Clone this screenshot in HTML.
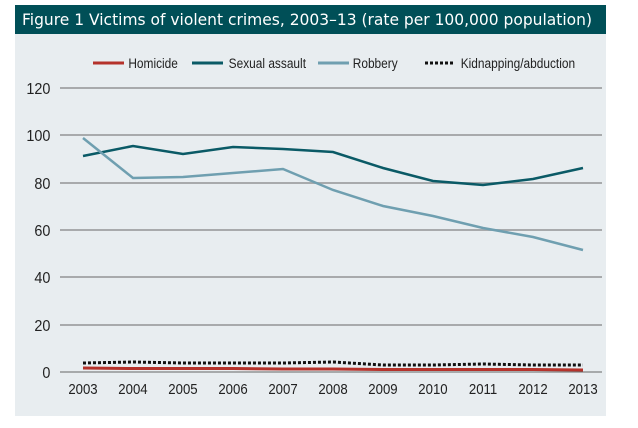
<!DOCTYPE html><html><head><style>body{margin:0;background:#fff}</style></head><body>
<svg width="638" height="423" xmlns="http://www.w3.org/2000/svg" font-family="Liberation Sans, sans-serif">
<rect x="15" y="5" width="591" height="411" fill="#e8edf0"/>
<rect x="15" y="5" width="591" height="29" fill="#004f57"/>
<text x="22" y="25" fill="#fff" font-size="16" font-family="DejaVu Sans, sans-serif" textLength="570" lengthAdjust="spacingAndGlyphs">Figure 1 Victims of violent crimes, 2003–13 (rate per 100,000 population)</text>
<g font-size="14" fill="#222" transform="scale(0.85,1)">
<text x="151" y="68">Homicide</text><text x="269" y="68">Sexual assault</text><text x="415" y="68">Robbery</text><text x="542" y="68">Kidnapping/abduction</text></g>
<line x1="93" y1="63" x2="124" y2="63" stroke="#b5322b" stroke-width="3"/>
<line x1="192" y1="63" x2="223" y2="63" stroke="#0a5a66" stroke-width="3"/>
<line x1="318" y1="63" x2="349" y2="63" stroke="#6f9fb0" stroke-width="3"/>
<line x1="425" y1="63" x2="454" y2="63" stroke="#111" stroke-width="3" stroke-dasharray="3,2"/>
<g stroke="#a8aaac" stroke-width="2">
<line x1="60" y1="88" x2="602" y2="88"/><line x1="60" y1="135" x2="602" y2="135"/><line x1="60" y1="183" x2="602" y2="183"/><line x1="60" y1="230" x2="602" y2="230"/><line x1="60" y1="277" x2="602" y2="277"/><line x1="60" y1="325" x2="602" y2="325"/></g>
<line x1="60" y1="372" x2="602" y2="372" stroke="#666" stroke-width="1"/>
<g font-size="16" fill="#222" text-anchor="end" transform="scale(0.9,1)"><text x="56" y="94">120</text><text x="56" y="141">100</text><text x="56" y="189">80</text><text x="56" y="236">60</text><text x="56" y="283">40</text><text x="56" y="331">20</text><text x="56" y="378">0</text></g>
<g font-size="15" fill="#222" text-anchor="middle" transform="scale(0.88,1)">
<text x="94.3" y="394">2003</text><text x="151.1" y="394">2004</text><text x="207.9" y="394">2005</text><text x="264.8" y="394">2006</text><text x="321.6" y="394">2007</text><text x="378.4" y="394">2008</text><text x="435.2" y="394">2009</text><text x="492" y="394">2010</text><text x="548.9" y="394">2011</text><text x="605.7" y="394">2012</text><text x="662.5" y="394">2013</text></g>
<polyline fill="none" stroke="#0a5a66" stroke-width="2.5" points="83,156 133,146 183,154 233,147 283,149 333,152 383,168 433,181 483,185 533,179 583,168"/>
<polyline fill="none" stroke="#6f9fb0" stroke-width="2.5" points="83,138 133,178 183,177 233,173 283,169 333,190 383,206 433,216 483,228 533,237 583,250"/>
<polyline fill="none" stroke="#111" stroke-width="3" stroke-dasharray="3,2" points="83,363 133,362 183,363 233,363 283,363 333,362 383,365 433,365 483,364 533,365 583,365"/>
<polyline fill="none" stroke="#b5322b" stroke-width="3" points="83,368 133,368.5 183,368.5 233,368.5 283,369 333,369 383,369.5 433,369.5 483,369.5 533,369.5 583,370"/>
</svg></body></html>
